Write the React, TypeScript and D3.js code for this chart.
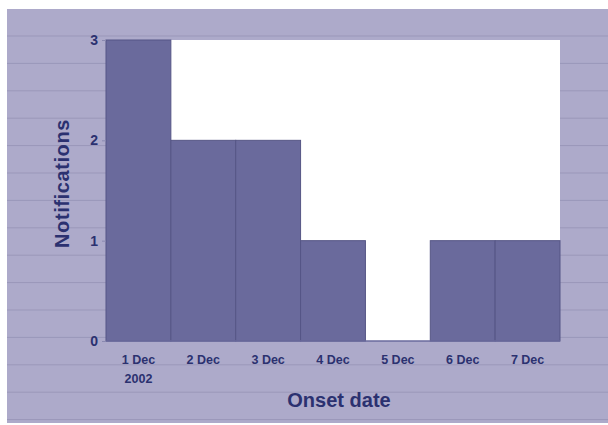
import { useEffect, useRef } from "react";
import * as d3 from "d3";

const categories = ["1 Dec", "2 Dec", "3 Dec", "4 Dec", "5 Dec", "6 Dec", "7 Dec"];
const subLabels = ["2002", "", "", "", "", "", ""];
const notifications = [3, 2, 2, 1, 0, 1, 1];
const yTicks = [0, 1, 2, 3];

const W = 608;
const H = 425;
const FONT = "Liberation Sans, Arial, sans-serif";

const App = () => {
  const svgRef = useRef<SVGSVGElement | null>(null);

  useEffect(() => {
    if (!svgRef.current) return;
    const svg = d3.select(svgRef.current);
    svg.selectAll("*").remove();

    const margin = { left: 106, top: 40, right: 48, bottom: 84 };
    const innerW = W - margin.left - margin.right;
    const innerH = H - margin.top - margin.bottom;
    const text = "#2b3170";

    // page background with faint ruled lines
    svg.append("rect").attr("width", W).attr("height", H).attr("fill", "#fff");
    svg
      .append("rect")
      .attr("x", 7)
      .attr("y", 9)
      .attr("width", W - 7)
      .attr("height", 414)
      .attr("fill", "#adaaca");
    svg
      .append("g")
      .selectAll("line")
      .data(d3.range(36, 420, 27.4))
      .enter()
      .append("line")
      .attr("x1", 7)
      .attr("x2", W)
      .attr("y1", (d) => d)
      .attr("y2", (d) => d)
      .attr("stroke", "#9a97b9")
      .attr("stroke-width", 1);

    const g = svg
      .append("g")
      .attr("transform", `translate(${margin.left},${margin.top})`);

    const x = d3.scaleBand().domain(categories).range([0, innerW]).padding(0);
    const y = d3.scaleLinear().domain([0, 3]).range([innerH, 0]);

    g.append("rect")
      .attr("width", innerW)
      .attr("height", innerH)
      .attr("fill", "#ffffff");

    g.selectAll(".bar")
      .data(notifications)
      .enter()
      .append("rect")
      .attr("class", "bar")
      .attr("x", (_d, i) => x(categories[i]) as number)
      .attr("y", (d) => y(d))
      .attr("width", x.bandwidth())
      .attr("height", (d) => innerH - y(d))
      .attr("fill", "#6a6a9c")
      .attr("stroke", "#555585")
      .attr("stroke-width", 1);

    // baseline
    g.append("line")
      .attr("x1", 0)
      .attr("x2", innerW)
      .attr("y1", innerH)
      .attr("y2", innerH)
      .attr("stroke", "#6a6a9c")
      .attr("stroke-width", 1.5);

    const yAxis = d3.axisLeft(y).tickValues(yTicks).tickSize(4).tickPadding(4).tickFormat(d3.format("d"));
    g.append("g")
      .call(yAxis)
      .call((a) => a.select(".domain").remove())
      .call((a) => a.selectAll(".tick line").attr("stroke", "#8a89b0"))
      .call((a) =>
        a
          .selectAll("text")
          .attr("fill", text)
          .attr("font-size", "14px")
          .attr("font-weight", "bold")
          .attr("font-family", FONT),
      );

    const xAxis = d3.axisBottom(x).tickSize(0).tickPadding(14);
    const xg = g
      .append("g")
      .attr("transform", `translate(0,${innerH})`)
      .call(xAxis);
    xg.select(".domain").remove();
    xg.selectAll("text")
      .attr("fill", text)
      .attr("font-size", "12.5px")
      .attr("font-weight", "bold")
      .attr("font-family", FONT);
    xg.selectAll(".tick").each(function (label) {
      const i = categories.indexOf(label as string);
      if (subLabels[i]) {
        d3.select(this)
          .append("text")
          .attr("y", 33)
          .attr("dy", "0.71em")
          .attr("text-anchor", "middle")
          .attr("fill", text)
          .attr("font-size", "12.5px")
          .attr("font-weight", "bold")
          .attr("font-family", FONT)
          .text(subLabels[i]);
      }
    });

    svg
      .append("text")
      .attr("x", margin.left + innerW / 2 + 6)
      .attr("y", 407)
      .attr("text-anchor", "middle")
      .attr("fill", text)
      .attr("font-size", "20px")
      .attr("font-weight", "bold")
      .attr("font-family", FONT)
      .text("Onset date");

    svg
      .append("text")
      .attr("transform", `translate(69,${margin.top + innerH / 2 - 7}) rotate(-90)`)
      .attr("text-anchor", "middle")
      .attr("fill", text)
      .attr("font-size", "20px")
      .attr("font-weight", "bold")
      .attr("letter-spacing", "0.6px")
      .attr("font-family", FONT)
      .text("Notifications");
  }, []);

  return (
    <svg
      ref={svgRef}
      width={W}
      height={H}
      style={{ position: "absolute", left: 0, top: 0, display: "block" }}
    />
  );
};

export default App;
